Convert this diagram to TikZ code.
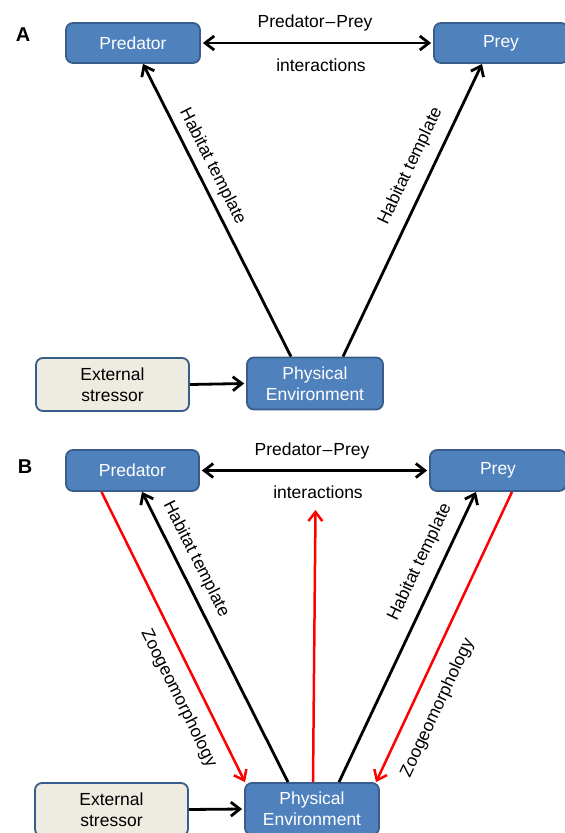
\documentclass[tikz,border=0pt]{standalone}
\usepackage{fontspec}
\setmainfont{Liberation Sans}
\usetikzlibrary{arrows.meta,calc}
\definecolor{boxblue}{HTML}{4F81BD}
\definecolor{boxedge}{HTML}{385D8A}
\definecolor{beige}{HTML}{EEECE1}
\begin{document}
\begin{tikzpicture}[x=1pt,y=-1pt,
  bluebox/.style={draw=boxedge, line width=1.8pt, fill=boxblue, rounded corners=7pt,
    text=white, font=\fontsize{17.5}{21}\selectfont, align=center, inner sep=0pt},
  stressbox/.style={bluebox, fill=beige, text=black},
  tipk/.tip={Straight Barb[length=9pt,width=14pt]},
  conn/.style={line width=2.8pt, -tipk},
  dbl/.style={line width=2.8pt, tipk-tipk},
  redconn/.style={line width=2.5pt, draw=red, -tipk},
  lbl/.style={font=\fontsize{17.5}{21}\selectfont, inner sep=0pt},
  panel/.style={font=\fontsize{20}{24}\selectfont\bfseries, inner sep=0pt}]
\useasboundingbox (0,0) rectangle (565,833);

% ---------- Panel A ----------
\node[panel] (labA) at (23,35) {A};
\node[bluebox, minimum width=134pt, minimum height=40pt] (predA) at (133,43) {Predator};
\node[bluebox, minimum width=134pt, minimum height=40pt] (preyA) at (501,43) {Prey};
\node[stressbox, minimum width=153pt, minimum height=53pt] (extA) at (112.5,384.5) {External\\stressor};
\node[bluebox, minimum width=136pt, minimum height=52pt] (peA) at (315,383.5) {Physical\\Environment};

\draw[dbl] ([xshift=2pt]predA.east) -- ([xshift=-2pt]preyA.west);
\node[lbl, anchor=base] (ppA) at (315,27.5) {Predator\kern1pt–\kern1pt Prey};
\node[lbl, anchor=base] (intA) at (321,71) {interactions};

\draw[conn] ([xshift=-24pt]peA.north) -- ([xshift=10pt]predA.south)
  node[lbl, pos=0.625, sloped, above=6pt] (htA1) {Habitat template};
\draw[conn] ([xshift=28pt]peA.north) -- ([xshift=-19pt]preyA.south)
  node[lbl, pos=0.62, sloped, above=11pt] (htA2) {Habitat template};
\draw[conn] (extA.east) -- ([xshift=-2pt]peA.west);

% ---------- Panel B ----------
\node[panel] (labB) at (25,467) {B};
\node[bluebox, minimum width=133pt, minimum height=41pt] (predB) at (132.5,470.5) {Predator};
\node[bluebox, minimum width=136pt, minimum height=41pt] (preyB) at (498,470.5) {Prey};
\node[stressbox, minimum width=153pt, minimum height=53pt] (extB) at (111.5,809.5) {External\\stressor};
\node[bluebox, minimum width=134pt, minimum height=52pt] (peB) at (312,809) {Physical\\Environment};

\draw[dbl] ([xshift=2pt]predB.east) -- ([xshift=-2pt]preyB.west);
\node[lbl, anchor=base] (ppB) at (312,455) {Predator\kern1pt–\kern1pt Prey};
\node[lbl, anchor=base] (intB) at (318,498.5) {interactions};

\coordinate (redtip) at (315.5,510);
\draw[redconn] ([xshift=1pt]peB.north) -- (redtip);

\draw[conn] ([xshift=-24pt]peB.north) -- ([xshift=9.5pt]predB.south)
  node[lbl, pos=0.741, sloped, above=8.5pt] (htB1) {Habitat template};
\draw[conn] ([xshift=27pt]peB.north) -- ([xshift=-22pt]preyB.south)
  node[lbl, pos=0.727, sloped, above=11pt] (htB2) {Habitat template};
\draw[redconn] ([xshift=-31pt]predB.south) -- ([xshift=-67pt]peB.north)
  node[lbl, pos=0.677, sloped, below=13pt] (zgB1) {Zoogeomorphology};
\draw[redconn] ([xshift=14pt]preyB.south) -- ([xshift=64pt]peB.north)
  node[lbl, pos=0.709, sloped, below=15pt] (zgB2) {Zoogeomorphology};
\draw[conn] (extB.east) -- ([xshift=-2pt]peB.west);
\end{tikzpicture}
\end{document}
